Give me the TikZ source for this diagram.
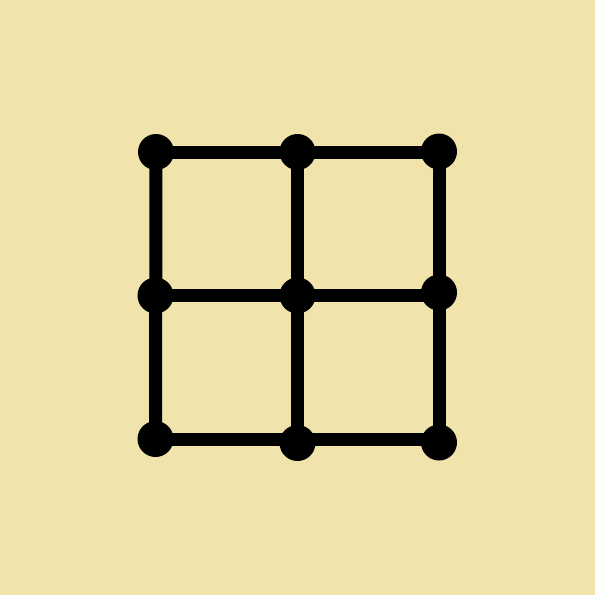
\documentclass[tikz,border=0pt]{standalone}
\usetikzlibrary{backgrounds}
\definecolor{paper}{RGB}{240,228,172}
\pgfdeclarelayer{edges}
\pgfsetlayers{background,edges,main}
\tikzset{
  dot/.style={circle,fill=black,inner sep=0pt,minimum size=36pt},
  bar/.style={line width=13pt,black}
}
\begin{document}
\begin{tikzpicture}[x=1pt,y=-1pt]
			% canvas
			\begin{pgfonlayer}{background}
			\fill[paper] (0,0) rectangle (595,595);
			\end{pgfonlayer}
			\useasboundingbox (0,0) rectangle (595,595);
			% grid points
			\node[dot] (a1) at (156,152) {};
			\node[dot] (a2) at (297.5,152) {};
			\node[dot] (a3) at (439,151.5) {};
			\node[dot] (b1) at (155.5,295.5) {};
			\node[dot] (b2) at (297.5,295.5) {};
			\node[dot] (b3) at (439,292.5) {};
			\node[dot] (c1) at (155.5,439) {};
			\node[dot] (c2) at (297.5,443) {};
			\node[dot] (c3) at (439,442.5) {};
			% bars, straight rows and columns
			\begin{pgfonlayer}{edges}
			\draw[bar] (a1.center)--(a3.center |- a1.center);
			\draw[bar] (b1.center)--(b3.center |- b1.center);
			\draw[bar] (c1.center)--(c3.center |- c1.center);
			\draw[bar] (a1.center)--(c1.center);
			\draw[bar] (a2.center)--(a2.center |- c1.center);
			\draw[bar] (a3.center)--(a3.center |- c1.center);
			\end{pgfonlayer}
		\end{tikzpicture}
\end{document}
